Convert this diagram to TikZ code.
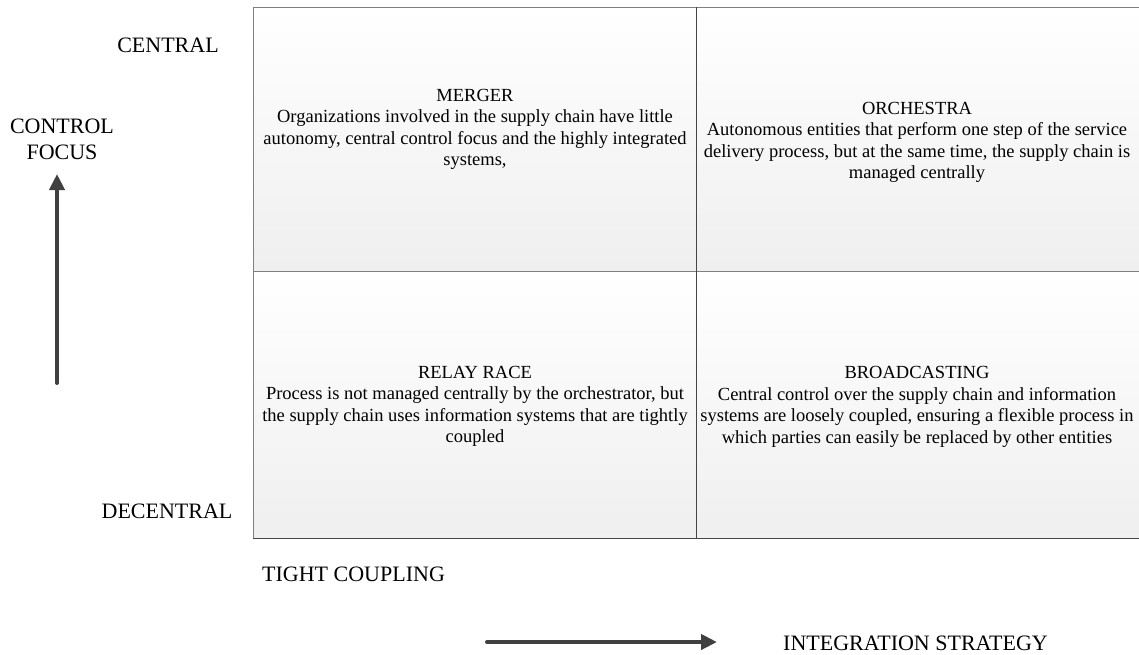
\documentclass[tikz,border=0pt]{standalone}
\usepackage{fontspec}
\setmainfont{Liberation Serif}
\usetikzlibrary{arrows.meta}
\definecolor{framegray}{HTML}{808080}
\definecolor{edgedark}{HTML}{454545}
\definecolor{arrowgray}{HTML}{404040}
\definecolor{cellbottom}{HTML}{EFEFEF}
\tikzset{
  cell/.style={draw=framegray, line width=1pt, top color=white, bottom color=cellbottom,
    anchor=north west, inner sep=0pt, outer sep=0pt},
  darkedge/.style={draw=edgedark, line width=1pt},
  celltext/.style={anchor=north, inner sep=0pt, align=center,
    font=\fontsize{18.5pt}{21.5pt}\selectfont},
  axislabel/.style={inner sep=0pt, font=\fontsize{22pt}{26pt}\selectfont},
  axisarrow/.style={draw=arrowgray, line width=4pt, line cap=round,
    -{Triangle[length=16pt,width=15pt]}}
}
\begin{document}
\begin{tikzpicture}[x=1pt,y=-1pt]
\useasboundingbox (0,0) rectangle (1139,654);

% four quadrants
\node[cell, minimum width=443pt, minimum height=264pt] (tl) at (253,7) {};
\node[cell, minimum width=450pt, minimum height=264pt] (tr) at (696,7) {};
\node[cell, minimum width=443pt, minimum height=267pt] (bl) at (253,271) {};
\node[cell, minimum width=450pt, minimum height=267pt] (br) at (696,271) {};
% darker right/bottom edges
\draw[darkedge] (tl.north east) -- (tl.south east);
\draw[darkedge] (bl.north east) -- (bl.south east) -- (bl.south west);
\draw[darkedge] (br.south west) -- (br.south east);

% quadrant descriptions
\node[celltext] (merger) at (475,89) {MERGER\\
Organizations involved in the supply chain have little\\
autonomy, central control focus and the highly integrated\\
systems,};
\node[celltext] (orchestra) at (917,101.6) {ORCHESTRA\\
Autonomous entities that perform one step of the service\\
delivery process, but at the same time, the supply chain is\\
managed centrally};
\node[celltext] (relay) at (475,365.8) {RELAY RACE\\
Process is not managed centrally by the orchestrator, but\\
the supply chain uses information systems that are tightly\\
coupled};
\node[celltext] (broadcast) at (917,366.1) {BROADCASTING\\
Central control over the supply chain and information\\
systems are loosely coupled, ensuring a flexible process in\\
which parties can easily be replaced by other entities};

% axis labels
\node[axislabel] (central) at (168,45) {CENTRAL};
\node[axislabel] (decentral) at (167,511) {DECENTRAL};
\node[axislabel, align=center] (focus) at (62,139) {CONTROL\\FOCUS};
\node[axislabel, anchor=west] (tight) at (262,574.5) {TIGHT COUPLING};
\node[axislabel, anchor=west] (strategy) at (783,643) {INTEGRATION STRATEGY};

% axis arrows
\coordinate (vstart) at (57,383);
\coordinate (vend) at (57,174);
\coordinate (hstart) at (487,642);
\coordinate (hend) at (717,642);
\draw[axisarrow] (vstart) -- (vend);
\draw[axisarrow] (hstart) -- (hend);
\end{tikzpicture}
\end{document}
